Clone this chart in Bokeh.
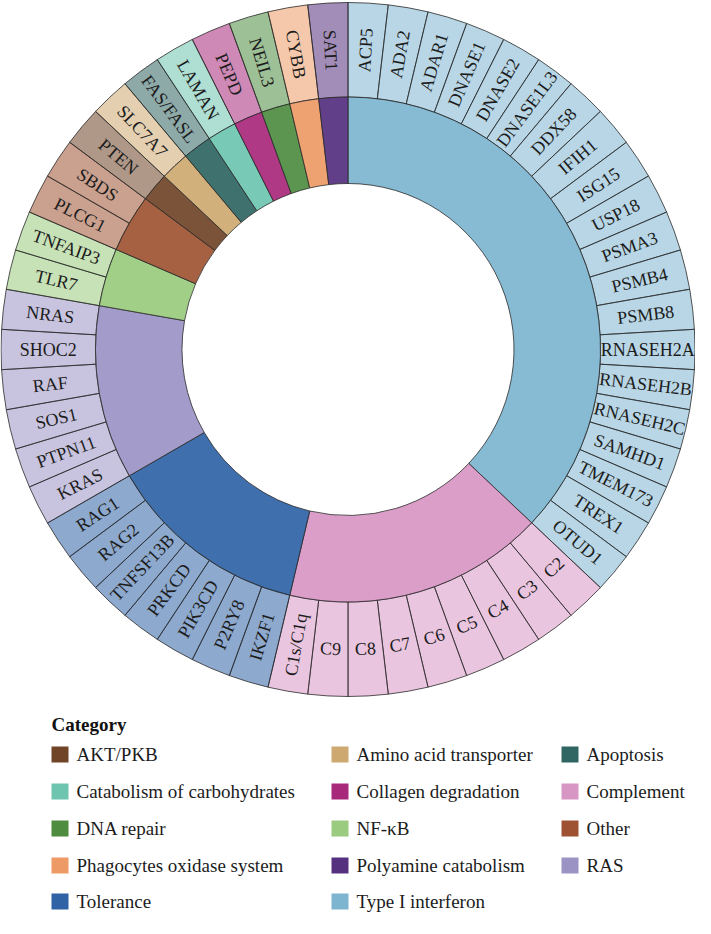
import math
from bokeh.plotting import figure
from bokeh.models import Range1d
from bokeh.core.properties import value
from bokeh.embed import file_html
from bokeh.resources import INLINE

# ---------------- data ----------------
genes = ["ACP5", "ADA2", "ADAR1", "DNASE1", "DNASE2", "DNASE1L3", "DDX58", "IFIH1",
         "ISG15", "USP18", "PSMA3", "PSMB4", "PSMB8", "RNASEH2A", "RNASEH2B",
         "RNASEH2C", "SAMHD1", "TMEM173", "TREX1", "OTUD1",
         "C2", "C3", "C4", "C5", "C6", "C7", "C8", "C9", "C1s/C1q",
         "IKZF1", "P2RY8", "PIK3CD", "PRKCD", "TNFSF13B", "RAG2", "RAG1",
         "KRAS", "PTPN11", "SOS1", "RAF", "SHOC2", "NRAS",
         "TLR7", "TNFAIP3", "PLCG1", "SBDS", "PTEN", "SLC7A7", "FAS/FASL",
         "LAMAN", "PEPD", "NEIL3", "CYBB", "SAT1"]

ring_categories = ["Type I interferon", "Complement", "Tolerance", "RAS", "NF-κB", "Other",
                   "AKT/PKB", "Amino acid transporter", "Apoptosis",
                   "Catabolism of carbohydrates", "Collagen degradation", "DNA repair",
                   "Phagocytes oxidase system", "Polyamine catabolism"]
ring_counts = [20, 9, 7, 6, 2, 2, 1, 1, 1, 1, 1, 1, 1, 1]

legend_categories = ["AKT/PKB", "Amino acid transporter", "Apoptosis",
                     "Catabolism of carbohydrates", "Collagen degradation", "Complement",
                     "DNA repair", "NF-κB", "Other",
                     "Phagocytes oxidase system", "Polyamine catabolism", "RAS",
                     "Tolerance", "Type I interferon"]

category_colors = {
    "AKT/PKB": "#6F4427",
    "Amino acid transporter": "#CDA970",
    "Apoptosis": "#2F6562",
    "Catabolism of carbohydrates": "#6DC4AF",
    "Collagen degradation": "#A8287A",
    "Complement": "#D896C4",
    "DNA repair": "#4E8C40",
    "NF-κB": "#9ACB7E",
    "Other": "#9E5232",
    "Phagocytes oxidase system": "#ED9A66",
    "Polyamine catabolism": "#55307F",
    "RAS": "#9B93C4",
    "Tolerance": "#2F63A5",
    "Type I interferon": "#7DB5D0",
}

# ---------------- geometry ----------------
W, H = 695, 918
cx, cy = 347.5, H - (357 - 8)
r_out, r_mid, r_in = 347, 252.5, 166
FONT = value("Liberation Serif")

n = len(genes)
step = 2 * math.pi / n

p = figure(width=W, height=H, x_range=Range1d(0, W), y_range=Range1d(0, H),
           output_backend="svg", toolbar_location=None, min_border=0,
           x_axis_type=None, y_axis_type=None)
p.grid.visible = False
p.outline_line_color = None
p.background_fill_color = "white"

gene_cat = []
for c, k in zip(ring_categories, ring_counts):
    gene_cat += [c] * k

# outer ring (genes)
starts, ends, cols = [], [], []
for i in range(n):
    starts.append(math.pi / 2 - (i + 1) * step)
    ends.append(math.pi / 2 - i * step)
    cols.append(category_colors[gene_cat[i]])
p.annular_wedge(x=cx, y=cy, inner_radius=r_mid, outer_radius=r_out,
                start_angle=starts, end_angle=ends, fill_color=cols, fill_alpha=0.55,
                line_color="#2a2a2a", line_width=0.8)

# inner ring (categories)
cs, ce, cc = [], [], []
acc = 0
for c, k in zip(ring_categories, ring_counts):
    cs.append(math.pi / 2 - (acc + k) * step)
    ce.append(math.pi / 2 - acc * step)
    cc.append(category_colors[c])
    acc += k
p.annular_wedge(x=cx, y=cy, inner_radius=r_in, outer_radius=r_mid,
                start_angle=cs, end_angle=ce, fill_color=cc, fill_alpha=0.92,
                line_color="#2a2a2a", line_width=0.8)

# gene labels
r_lab = (r_mid + r_out) / 2
lx, ly, la = [], [], []
for i, g in enumerate(genes):
    th = (i + 0.5) * 360.0 / n          # clockwise from top, degrees
    ang = math.radians(90 - th)
    lx.append(cx + r_lab * math.cos(ang))
    ly.append(cy + r_lab * math.sin(ang))
    if len(g) <= 2:                      # short labels are tangential
        rot = 180 - th
    elif th < 180:
        rot = 90 - th
    else:
        rot = 270 - th
    la.append(math.radians(rot))
p.text(x=lx, y=ly, text=genes, angle=la, text_align="center", text_baseline="middle",
       text_font=FONT, text_font_size="18px", text_color="#1c1c1c")

# legend (manual, 3 columns)
col_sw_x = [51, 331, 561]
row_y_ref = [762, 799, 836, 873, 909]
sw_w, sw_h = 17, 16
for j, c in enumerate(legend_categories):
    r, k = divmod(j, 3)
    yy = H - (row_y_ref[r] - 8)
    p.rect(x=col_sw_x[k] + sw_w / 2, y=yy, width=sw_w, height=sw_h,
           fill_color=category_colors[c], line_color=None)
    p.text(x=[col_sw_x[k] + sw_w + 8], y=[yy], text=[c], text_align="left",
           text_baseline="middle", text_font=FONT, text_font_size="19px",
           text_color="#1c1c1c")
p.text(x=[51], y=[H - (732 - 8)], text=["Category"], text_align="left",
       text_baseline="middle", text_font=FONT, text_font_size="19px",
       text_font_style="bold", text_color="#111111")

open("out.html", "w").write(file_html(p, INLINE))
